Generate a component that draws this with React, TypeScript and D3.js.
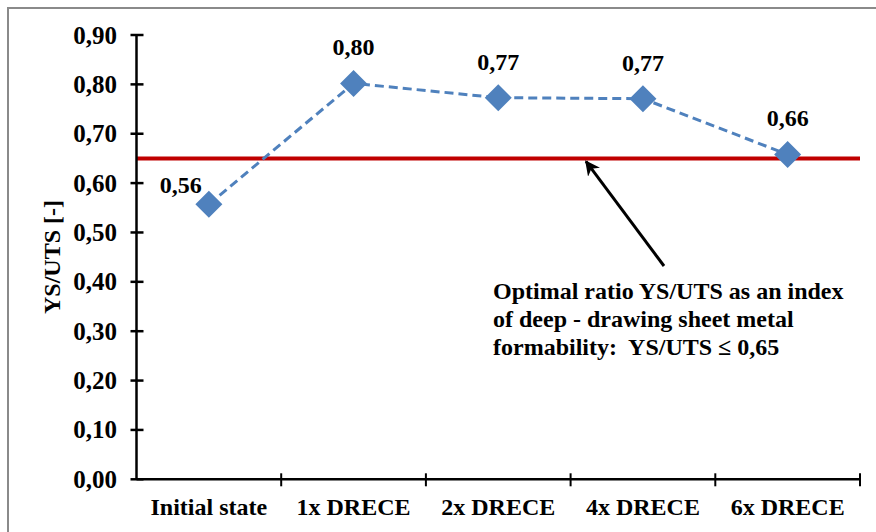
import React from "react";
import * as d3 from "d3";

const categories = ["Initial state", "1x DRECE", "2x DRECE", "4x DRECE", "6x DRECE"];
const ratioValues = [0.557, 0.802, 0.773, 0.771, 0.658];
const yTicks = [0, 0.1, 0.2, 0.3, 0.4, 0.5, 0.6, 0.7, 0.8, 0.9];
const threshold = 0.65;
const annotationLines = [
  "Optimal ratio YS/UTS as an index",
  "of deep - drawing sheet metal",
  "formability:\u00A0 YS/UTS \u2264 0,65",
];
const yTitle = "YS/UTS [-]";

const W = 876;
const H = 532;
const FONT = "'Liberation Serif', 'Times New Roman', serif";

export default function App() {
  const x = d3.scaleBand().domain(categories).range([136.5, 860]);
  const y = d3.scaleLinear().domain([0, 0.9]).range([479.3, 35]);
  const fmt = (v: number) => d3.format(".2f")(v).replace(".", ",");
  const cx = (c: string) => (x(c) as number) + x.bandwidth() / 2;
  const pts: [number, number][] = categories.map((c, i) => [cx(c), y(ratioValues[i])]);
  const line = d3.line()(pts) as string;
  const x0 = x.range()[0];
  const x1 = x.range()[1];
  const y0 = y(0);
  const r = 13.5;

  return (
    <svg
      width={W}
      height={H}
      style={{ position: "absolute", left: 0, top: 0, display: "block", background: "#fff" }}
      fontFamily={FONT}
      fontWeight="bold"
    >
      <defs>
        <marker id="ah" viewBox="0 0 10 10" refX="9" refY="5" markerWidth="5" markerHeight="5" orient="auto">
          <path d="M0,0 L10,5 L0,10 L3,5 Z" fill="#000" />
        </marker>
      </defs>
      {/* frame */}
      <rect x={8} y={8} width={W + 20} height={H + 20} fill="none" stroke="#8a8a8a" strokeWidth={2} />

      {/* threshold line */}
      <line x1={x0} x2={x1} y1={y(threshold)} y2={y(threshold)} stroke="#C00000" strokeWidth={4} />

      {/* y axis */}
      <line x1={x0} x2={x0} y1={y(0.9)} y2={y0} stroke="#000" strokeWidth={2.5} />
      {yTicks.map((t) => (
        <g key={t}>
          <line x1={x0 - 6} x2={x0 + 7} y1={y(t)} y2={y(t)} stroke="#000" strokeWidth={2.5} />
          <text x={117} y={y(t)} dy="0.34em" textAnchor="end" fontSize={25}>
            {fmt(t)}
          </text>
        </g>
      ))}

      {/* x axis */}
      <line x1={x0} x2={x1} y1={y0} y2={y0} stroke="#000" strokeWidth={2.5} />
      {categories.map((c) => (
        <line key={c} x1={(x(c) as number) + x.bandwidth()} x2={(x(c) as number) + x.bandwidth()} y1={y0 - 6} y2={y0 + 7} stroke="#000" strokeWidth={2} />
      ))}
      {categories.map((c) => (
        <text key={c} x={cx(c)} y={515} textAnchor="middle" fontSize={24}>
          {c}
        </text>
      ))}

      {/* y title */}
      <text transform={`translate(60,257) rotate(-90)`} textAnchor="middle" fontSize={24}>
        {yTitle}
      </text>

      {/* series */}
      <path d={line} fill="none" stroke="#4F81BD" strokeWidth={3} strokeDasharray="9,5" />
      {pts.map(([px, py], i) => (
        <path key={i} d={`M${px},${py - r} L${px + r},${py} L${px},${py + r} L${px - r},${py} Z`} fill="#4F81BD" />
      ))}
      {pts.map(([px, py], i) => (
        <text
          key={i}
          x={i === 0 ? px - 28 : px}
          y={i === 0 ? py - 11 : py - 28}
          textAnchor="middle"
          fontSize={24}
        >
          {fmt(ratioValues[i])}
        </text>
      ))}

      {/* annotation */}
      <line x1={664} y1={266} x2={586} y2={y(threshold) + 3} stroke="#000" strokeWidth={3} markerEnd="url(#ah)" />
      {annotationLines.map((l, i) => (
        <text key={i} x={493} y={299 + i * 28} fontSize={24}>
          {l}
        </text>
      ))}
    </svg>
  );
}
